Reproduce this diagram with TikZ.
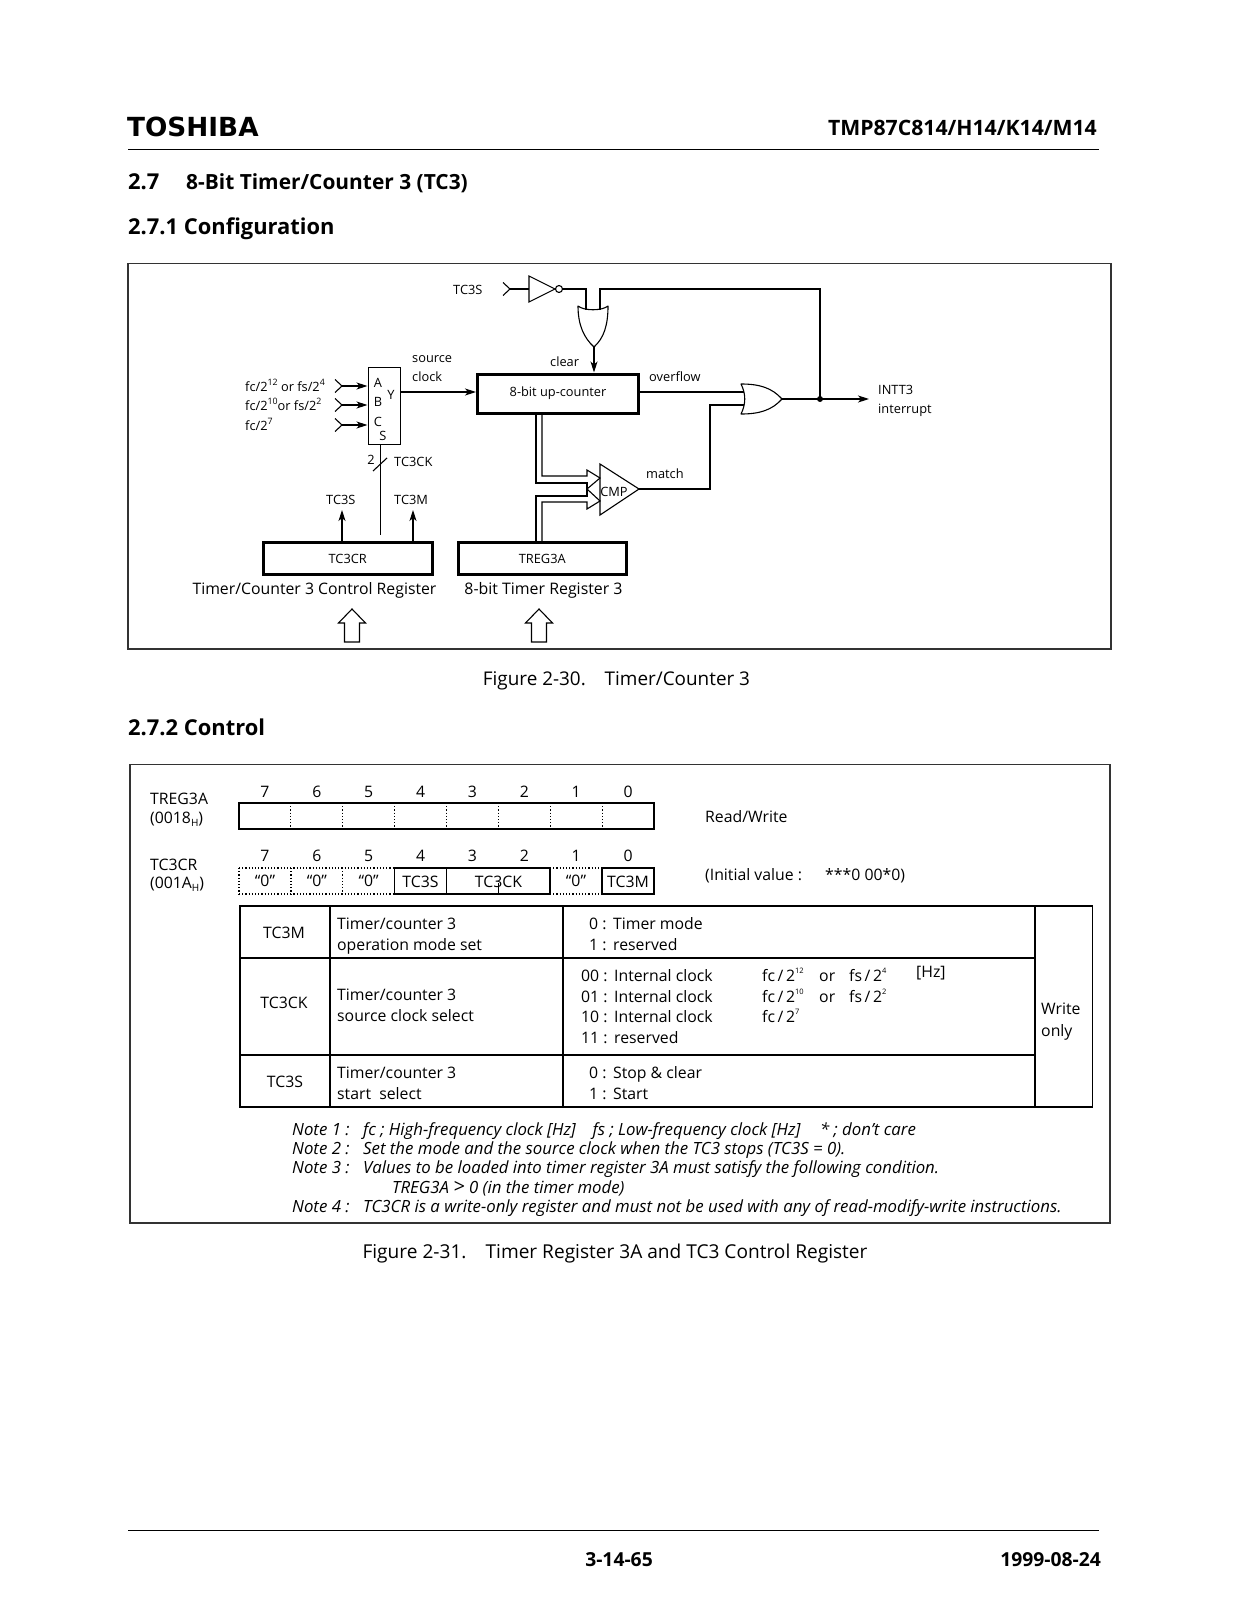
\documentclass[tikz,border=0pt]{standalone}
\usepackage{fontspec}
\setmainfont{Open Sans}
\newfontfamily\logofont[Scale=1]{DejaVu Sans}
\usetikzlibrary{arrows.meta,calc}
\newcommand{\fz}[1]{\fontsize{#1}{#1}\selectfont}
\newcommand{\sps}[1]{\raisebox{0.42em}{\fz{8.8}#1}}
\newcommand{\spt}[1]{\raisebox{0.5em}{\fz{7.5}#1}}
\newcommand{\sbs}[1]{\raisebox{-0.2em}{\fz{10}#1}}
\newcommand{\cl}{\ \hspace{2.5pt}}
\tikzset{
 x=1pt,y=-1pt,
 wire/.style={line width=1.1pt,line join=miter},
 arr/.style={wire,-{Stealth[length=11pt,width=7pt,inset=3pt]}},
 frm/.style={line width=1.1pt,draw=black!80},
 thick box/.style={draw,line width=3pt,inner sep=0pt,anchor=north west},
 tb/.style={line width=1.2pt},
 dot line/.style={line width=1.2pt,dash pattern=on 1.2pt off 2pt},
 sm/.style={anchor=base west,inner sep=0pt,font=\fz{12.8}},
 smc/.style={anchor=base,inner sep=0pt,font=\fz{12.8}},
 mid/.style={anchor=base west,inner sep=0pt,font=\fz{15.8}},
 midc/.style={anchor=base,inner sep=0pt,font=\fz{15.8}},
 figcap/.style={anchor=base,inner sep=0pt,font=\fz{18.9}},
 hd/.style={anchor=base west,inner sep=0pt,font=\fz{21.9}\bfseries},
 nt/.style={anchor=base west,inner sep=0pt,font=\fz{16.8}\itshape},
}
\begin{document}
\begin{tikzpicture}
\useasboundingbox (0,0) rectangle (1237,1600);
% page header
\node[anchor=base west,inner sep=0pt,font=\logofont\fz{26.3}\bfseries] (logo) at (127,136) {TOSHIBA};
\node[anchor=base east,inner sep=0pt,font=\fz{21.2}\bfseries] (part) at (1097,135.5) {TMP87C814/H14/K14/M14};
\coordinate (hl) at (128,149); \coordinate (hr) at (1099,149);
\draw[line width=1pt] (hl) -- (hr);
\node[hd] (h27) at (128,189) {2.7};
\node[hd,font=\fz{20.9}\bfseries] (h27t) at (186,189) {8-Bit Timer/Counter 3 (TC3)};
\node[hd] (h271) at (128,234.5) {2.7.1 Configuration};
\node[hd] (h272) at (128,735) {2.7.2 Control};
% frames
\draw[frm] (128,263.5) rectangle (1111,649);
\draw[frm] (130,764.5) rectangle (1110,1223);
\node[figcap] (f30) at (616.5,685) {Figure 2-30.\quad Timer/Counter 3};
\node[figcap,font=\fz{19.1}] (f31) at (615,1258.5) {Figure 2-31.\quad Timer Register 3A and TC3 Control Register};
% --- block diagram
\node[sm] (ltc3s) at (453,294) {TC3S};
\coordinate (c0a) at (503,282.5); \coordinate (c0) at (510,289); \coordinate (c0b) at (503,295.5);
\draw[wire] (c0a) -- (c0) -- (c0b);
\coordinate (invL) at (529,289); \coordinate (invA) at (555,289);
\draw[wire] (529,276) -- (555,289) -- (529,302) -- cycle;
\node[draw,circle,line width=1.1pt,minimum size=7pt,inner sep=0pt] (bub) at (559,289) {};
\draw[wire] (c0) -- (invL);
% upper OR gate
\coordinate (or1a) at (586,310); \coordinate (or1b) at (600,310); \coordinate (or1o) at (594,347);
\draw[wire,line join=round] (578,306) .. controls (584,311) and (602,311) .. (608,306)
   .. controls (608,325) and (604,338) .. (594,347) .. controls (584,338) and (578,325) .. (578,306) -- cycle;
\draw[wire] (bub.east) -| (or1a);
\coordinate (dot) at (820,399);
\draw[wire] (or1b) |- (820,289) -- (dot);
% counter
\node[thick box,minimum width=161pt,minimum height=39pt,font=\fz{12.8}] (cnt) at (476,372.5) {8-bit up-counter};
\draw[arr] (or1o) -- (cnt.north -| or1o);
\node[sm] (lclear) at (550,366.5) {clear};
\node[sm] (loverf) at (649,381) {overflow};
% mux
\node[draw,line width=1.1pt,minimum width=32pt,minimum height=77pt,inner sep=0pt,anchor=north west] (mux) at (367.5,367) {};
\node[smc] (ma) at (378,387.5) {A};
\node[smc] (mb) at (378,406.5) {B};
\node[smc] (mc) at (378,426.5) {C};
\node[smc] (my) at (391,399.5) {Y};
\node[smc] (ms) at (383,440.5) {S};
\node[sm] (l1) at (245,391) {fc/2\sps{12} or fs/2\sps{4}};
\node[sm] (l2) at (245,410) {fc/2\sps{10}or fs/2\sps{2}};
\node[sm] (l3) at (245,430) {fc/2\sps{7}};
\foreach \n/\y in {a/386,b/405,c/425}{
  \coordinate (ch\n) at (342,\y);
  \coordinate (in\n) at (367.5,\y);
  \draw[wire] (335,\y-6.5) -- (ch\n) -- (335,\y+6.5);
  \draw[arr] (ch\n) -- (in\n);
}
\node[sm] (lsrc) at (412,362) {source};
\node[sm] (lclk) at (412,381) {clock};
\draw[arr] (mux.east |- 0,392) -- (cnt.west |- 0,392);
% registers
\node[thick box,minimum width=168.5pt,minimum height=32pt,font=\fz{12.8}] (cr) at (262,541) {TC3CR};
\node[thick box,minimum width=168.5pt,minimum height=32pt,font=\fz{12.8}] (tr) at (456.5,541) {TREG3A};
\coordinate (sEnd) at (380.5,535);
\draw[wire] (mux.south -| sEnd) -- (sEnd);
\coordinate (sl1) at (373,471); \coordinate (sl2) at (387,458);
\draw[wire] (sl1) -- (sl2);
\node[smc] (l2b) at (371,464) {2};
\node[sm] (ltck) at (394,466.5) {TC3CK};
\node[sm] (lts) at (326,504) {TC3S};
\node[sm] (ltm) at (394,504) {TC3M};
\coordinate (a1) at (342,510); \coordinate (a2) at (413,510);
\draw[arr] (cr.north -| a1) -- (a1);
\draw[arr] (cr.north -| a2) -- (a2);
\node[anchor=base,inner sep=0pt,font=\fz{15.8}] (lcr) at (314.5,594.5) {Timer/Counter 3 Control Register};
\node[anchor=base,inner sep=0pt,font=\fz{15.9}] (ltr) at (543.5,594.5) {8-bit Timer Register 3};
\foreach \n/\x in {p/352,q/539}{
  \draw[wire] (\x,609) -- (\x+13.5,623) -- (\x+7.5,623) -- (\x+7.5,642) -- (\x-7.5,642) -- (\x-7.5,623) -- (\x-13.5,623) -- cycle;
}
% CMP
\coordinate (cmpo) at (639,489);
\draw[wire] (600,464) -- (cmpo) -- (600,515) -- cycle;
\node[inner sep=0pt,font=\fz{12.8},anchor=base] (lcmp) at (614,496) {CMP};
% buses
\coordinate (ht1) at (600,478); \coordinate (ht2) at (600,501); \coordinate (hm) at (587,489);
\draw[wire] (cnt.south -| 536,0) |- (587,483) -- (hm);
\draw[wire] (cnt.south -| 542,0) |- (587,476) -- (587,470) -- (ht1) -- (hm) -- (ht2) -- (587,509) -- (587,502) -| (tr.north -| 542,0);
\draw[wire] (tr.north -| 536,0) |- (587,496) -- (hm);
% lower OR gate
\coordinate (or2a) at (744,392); \coordinate (or2b) at (744,405); \coordinate (or2o) at (782,399);
\draw[wire,line join=round] (741,384) .. controls (746,394) and (746,404) .. (741,414)
  .. controls (760,414) and (772,410) .. (or2o) .. controls (772,388) and (760,384) .. (741,384) -- cycle;
\draw[wire] (cnt.east |- or2a) -- (or2a);
\draw[wire] (cmpo) -- (710,489) |- (or2b);
\node[sm] (lmatch) at (646,478) {match};
\coordinate (intt) at (869,399);
\draw[arr] (or2o) -- (intt);
\fill (dot) circle (3pt);
\node[sm] (li1) at (878,394) {INTT3};
\node[sm] (li2) at (878,413.5) {interrupt};
% --- registers
\node[mid] (r1a) at (150,804.5) {TREG3A};
\node[mid] (r1b) at (150,823) {(0018\sbs{H})};
\node[mid] (r2a) at (150,870.5) {TC3CR};
\node[mid] (r2b) at (150,888) {(001A\sbs{H})};
\foreach \bt [count=\i from 0] in {7,6,5,4,3,2,1,0}{
  \pgfmathsetmacro{\xc}{239+51.875*(\i+0.5)}
  \node[midc] (d1\bt) at (\xc,797.5) {\bt};
  \node[midc] (d2\bt) at (\xc,861.5) {\bt};
}
\draw[line width=1.1pt] (239,803) rectangle (654,829);
\foreach \i in {1,...,7}{
  \pgfmathsetmacro{\xc}{239+51.875*\i}
  \draw[dot line] (\xc,803) -- (\xc,829);
}
% TC3CR row
\draw[dot line] (239,868) -- (394.6,868) (239,894) -- (394.6,894);
\draw[dot line] (239,868) -- (239,894) (290.9,868) -- (290.9,894) (342.75,868) -- (342.75,894);
\draw[dot line] (550,868) -- (602,868) (550,894) -- (602,894);
\draw[line width=1.1pt] (394.6,868) rectangle (550,894);
\draw[line width=1.1pt] (446.5,868) -- (446.5,894);
\draw[line width=1.1pt] (498.4,883) -- (498.4,894);
\draw[line width=1.1pt] (602,868) rectangle (654,894);
\node[midc] (q7) at (265,886) {“0”};
\node[midc] (q6) at (316.8,886) {“0”};
\node[midc] (q5) at (368.7,886) {“0”};
\node[midc] (b4) at (420.5,887) {TC3S};
\node[midc] (b3) at (498.4,887) {TC3CK};
\node[midc] (q1) at (576,886) {“0”};
\node[midc] (b0) at (628,887) {TC3M};
\node[mid] (rw) at (705,822) {Read/Write};
\node[mid] (iv) at (705,880) {(Initial value :};
\node[mid] (iv2) at (825,880) {***0 00*0)};
% --- table
\draw[tb] (240,906) rectangle (1092.5,1107);
\draw[tb] (330,906) -- (330,1107) (563,906) -- (563,1107) (1035,906) -- (1035,1107);
\draw[tb] (240,958) -- (1035,958) (240,1055) -- (1035,1055);
\node[midc] (t1) at (284,938.5) {TC3M};
\node[midc] (t2) at (284,1008.5) {TC3CK};
\node[midc] (t3) at (285,1087.5) {TC3S};
\node[mid] (c1a) at (337,929.5) {Timer/counter 3};
\node[mid] (c1b) at (337,950) {operation mode set};
\node[mid] (c2a) at (337,1000.5) {Timer/counter 3};
\node[mid] (c2b) at (337,1021.5) {source clock select};
\node[mid] (c3a) at (337,1078) {Timer/counter 3};
\node[mid] (c3b) at (337,1099) {start\ \ select};
\node[mid] (v1) at (589,929) {0 :\cl Timer mode};
\node[mid] (v2) at (589,950) {1 :\cl reserved};
\node[mid] (v3) at (581,981) {00 :\cl Internal clock};
\node[mid] (v4) at (581,1002) {01 :\cl Internal clock};
\node[mid] (v5) at (581,1022.5) {10 :\cl Internal clock};
\node[mid] (v6) at (581,1043.5) {11 :\cl reserved};
\node[mid] (v7) at (589,1078) {0 :\cl Stop \& clear};
\node[mid] (v8) at (589,1099) {1 :\cl Start};
\node[mid] (f1) at (762,981) {fc\,/\,2\spt{12}};
\node[mid] (f2) at (762,1002) {fc\,/\,2\spt{10}};
\node[mid] (f3) at (762,1022.5) {fc\,/\,2\spt{7}};
\node[mid] (o1) at (819,981) {or};
\node[mid] (o2) at (819,1002) {or};
\node[mid] (s1) at (849,981) {fs\,/\,2\spt{4}};
\node[mid] (s2) at (849,1002) {fs\,/\,2\spt{2}};
\node[mid] (hz) at (916,977) {[Hz]};
\node[mid] (w1) at (1041,1014.5) {Write};
\node[mid] (w2) at (1041,1036) {only};
% --- notes
\node[nt] (n1) at (292,1135) {Note 1 :};
\node[nt] (n1t) at (363,1135) {fc ; High-frequency clock [Hz]\quad fs ; Low-frequency clock [Hz]\quad\,* ; don’t care};
\node[nt] (n2) at (292,1154) {Note 2 :};
\node[nt] (n2t) at (363,1154) {Set the mode and the source clock when the TC3 stops (TC3S = 0).};
\node[nt] (n3) at (292,1173.5) {Note 3 :};
\node[nt] (n3t) at (363,1173.5) {Values to be loaded into timer register 3A must satisfy the following condition.};
\node[nt] (n3b) at (392,1193) {TREG3A {\fz{20}\textgreater} 0 (in the timer mode)};
\node[nt] (n4) at (292,1212) {Note 4 :};
\node[nt] (n4t) at (363,1212) {TC3CR is a write-only register and must not be used with any of read-modify-write instructions.};
% footer
\coordinate (fl) at (128,1530); \coordinate (fr) at (1099,1530);
\draw[line width=1pt] (fl) -- (fr);
\node[anchor=base,inner sep=0pt,font=\fz{19.3}\bfseries] (pg) at (619,1566.5) {3-14-65};
\node[anchor=base east,inner sep=0pt,font=\fz{19.3}\bfseries] (dt) at (1101,1566.5) {1999-08-24};
\end{tikzpicture}
\end{document}
